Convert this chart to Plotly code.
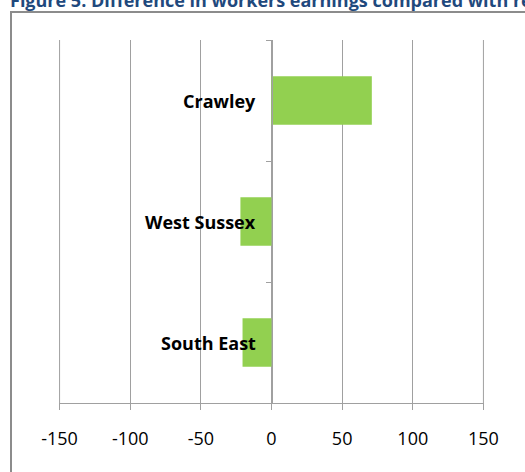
import plotly.graph_objects as go

categories = ["Crawley", "West Sussex", "South East"]
values = [71, -22, -20.5]
x_ticks = [-150, -100, -50, 0, 50, 100, 150]
title_text = "Figure 5: Difference in workers earnings compared with residents"

W, H = 525, 472
L, R, T, B = 59, 41, 40, 69
pw, ph = W - L - R, H - T - B

def px_x(p):
    return (p - L) / pw

def px_y(p):
    return 1 - (p - T) / ph

fig = go.Figure()
fig.add_trace(go.Bar(
    x=values, y=categories, orientation="h",
    marker=dict(color="#92D050", line=dict(width=0)),
    width=0.4, showlegend=False, hoverinfo="skip",
))

grid = "#A0A0A0"
fig.update_layout(
    width=W, height=H,
    margin=dict(l=L, r=R, t=T, b=B),
    paper_bgcolor="white", plot_bgcolor="white",
    font=dict(family="Open Sans", color="black"),
    xaxis=dict(
        range=[-150.4, 150.4], tickvals=x_ticks, ticktext=[str(v) for v in x_ticks],
        showgrid=True, gridcolor=grid, gridwidth=1,
        zeroline=False, showline=True, linecolor=grid, linewidth=1,
        ticks="outside", ticklen=6, tickcolor=grid, tickwidth=1,
        tickfont=dict(size=18, family="Open Sans", color="black"),
        ticklabelstandoff=13,
        fixedrange=True,
    ),
    yaxis=dict(
        categoryorder="array", categoryarray=categories[::-1],
        range=[-0.5, 2.5],
        anchor="free", position=0.5,
        showline=True, linecolor=grid, linewidth=1,
        ticks="outside", ticklen=6, tickcolor=grid, tickson="boundaries",
        showticklabels=False, showgrid=False, zeroline=False,
        fixedrange=True,
    ),
)

# edge gridlines (plotly drops gridlines at the plot edges)
for xv in (x_ticks[0], x_ticks[-1]):
    fig.add_shape(
        type="line", xref="x", yref="paper", x0=xv, x1=xv, y0=0, y1=1,
        line=dict(color=grid, width=1), layer="below",
    )

for cat in categories:
    fig.add_annotation(
        x=0, y=cat, xref="x", yref="y", text="<b>%s</b>" % cat,
        showarrow=False, xanchor="right", yanchor="middle", xshift=-14,
        font=dict(size=18, family="Open Sans", color="black"),
    )

fig.add_annotation(
    x=px_x(8), y=px_y(14), xref="paper", yref="paper",
    text="<b>%s</b>" % title_text, showarrow=False,
    xanchor="left", yanchor="bottom",
    font=dict(size=18, family="Open Sans", color="#1F497D"),
)

fig.add_shape(
    type="rect", xref="paper", yref="paper",
    x0=px_x(11), x1=px_x(560), y0=px_y(520), y1=px_y(12),
    line=dict(color="#8C8C8C", width=2), fillcolor="rgba(0,0,0,0)", layer="below",
)

fig.write_html(
    "out.html",
    config={"displayModeBar": False},
    post_script="document.body.style.margin='0';document.body.style.overflow='hidden';",
)
